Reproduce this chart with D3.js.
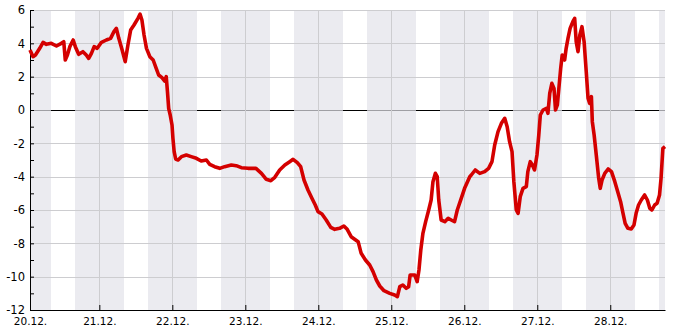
<!DOCTYPE html>
<html>
<head>
<meta charset="utf-8">
<script src="https://cdn.jsdelivr.net/npm/d3@7"></script>
<style>
  body { margin: 0; background: #fff; }
  text { font-family: "DejaVu Sans", sans-serif; fill: #000; }
</style>
</head>
<body>
<div id="chart"></div>
<script>
// hours since 20.12. 00:00
const startHour = 1.2;
const endHour = 210;
const dayLabels = ["20.12.", "21.12.", "22.12.", "23.12.", "24.12.", "25.12.", "26.12.", "27.12.", "28.12."];
const yTickValues = [-12, -10, -8, -6, -4, -2, 0, 2, 4, 6];

const hours = [
  1.2, 2.2, 3.0, 4.4, 5.5, 6.6, 8.2, 9.9, 11.5, 12.3, 12.8, 13.5, 14.3, 15.4, 16.1, 17.2, 18.6, 19.7, 20.5, 21.4,
  22.3, 23.3, 24.7, 26.3, 27.7, 28.8, 29.6, 30.4, 31.5, 32.5, 33.4, 34.3, 35.4, 36.7, 37.4, 38.0, 38.7, 39.5, 40.6, 41.7,
  42.7, 43.5, 44.6, 45.5, 46.0, 46.4, 46.8, 47.3, 47.9, 48.2, 48.6, 49.1, 49.9, 51.0, 52.6, 54.2, 55.9, 57.5, 59.2, 60.3,
  61.9, 63.6, 65.2, 67.4, 69.0, 70.7, 72.9, 75.5, 77.3, 78.9, 80.4, 81.7, 83.3, 85.0, 86.6, 87.7, 89.1, 90.2, 91.3, 92.6,
  93.9, 95.0, 95.9, 97.2, 98.6, 100.1, 101.4, 103.0, 104.4, 105.5, 106.8, 109.1, 110.1, 111.5, 112.9, 114.0, 115.1, 116.2, 117.6, 119.5,
  121.1, 122.0, 122.8, 123.8, 124.9, 125.7, 126.2, 127.7, 128.5, 129.1, 129.7, 130.4, 131.3, 132.3, 133.1, 133.7, 134.5, 135.1, 135.6, 136.4,
  137.6, 138.7, 139.7, 140.8, 141.7, 143.0, 144.1, 145.8, 146.3, 147.6, 149.1, 150.7, 152.0, 153.1, 154.0, 155.1, 156.2, 157.3, 158.1, 158.9,
  159.7, 160.3, 161.1, 161.7, 162.4, 163.3, 164.4, 164.9, 165.7, 166.4, 167.1, 167.9, 168.5, 169.0, 169.9, 171.0, 171.5, 172.1, 172.8, 173.5,
  174.0, 174.6, 175.1, 175.7, 176.2, 177.0, 177.5, 178.1, 178.8, 179.7, 180.3, 180.8, 181.4, 182.0, 182.7, 183.4, 184.1, 184.7, 185.2, 185.8,
  186.1, 186.7, 187.4, 188.2, 188.7, 189.3, 190.2, 191.3, 192.4, 193.5, 194.6, 195.4, 196.2, 196.9, 197.8, 198.9, 199.8, 200.5, 201.3, 202.2,
  203.3, 204.2, 205.0, 205.7, 206.6, 207.4, 208.2, 208.7, 209.3, 210.0
];
const temps = [
  3.6, 3.2, 3.3, 3.7, 4.06, 3.94, 4.0, 3.84, 4.0, 4.1, 3.0, 3.3, 3.8, 4.2, 3.8, 3.34, 3.5, 3.3, 3.1, 3.4,
  3.8, 3.7, 4.06, 4.2, 4.3, 4.7, 4.9, 4.3, 3.6, 2.9, 3.9, 4.8, 5.1, 5.5, 5.75, 5.4, 4.5, 3.7, 3.2, 3.0,
  2.5, 2.1, 1.94, 1.74, 2.0, 1.1, 0.1, -0.3, -0.9, -1.7, -2.5, -2.94, -3.0, -2.8, -2.7, -2.8, -2.9, -3.06, -3.0, -3.26,
  -3.4, -3.5, -3.4, -3.3, -3.34, -3.46, -3.5, -3.5, -3.8, -4.16, -4.24, -4.04, -3.6, -3.3, -3.1, -2.96, -3.16, -3.4, -4.2, -4.8,
  -5.3, -5.7, -6.1, -6.24, -6.6, -7.04, -7.16, -7.1, -6.96, -7.16, -7.6, -7.9, -8.6, -9.0, -9.3, -9.7, -10.2, -10.56, -10.84, -11.0,
  -11.1, -11.2, -10.6, -10.5, -10.7, -10.6, -9.9, -9.9, -10.3, -9.6, -8.4, -7.4, -6.7, -6.0, -5.4, -4.3, -3.8, -4.0, -5.4, -6.6,
  -6.7, -6.5, -6.6, -6.7, -6.0, -5.3, -4.7, -4.0, -3.9, -3.6, -3.8, -3.7, -3.5, -3.1, -2.1, -1.3, -0.8, -0.5, -1.0, -1.9,
  -2.5, -4.3, -6.0, -6.2, -5.2, -4.7, -4.6, -3.7, -3.1, -3.3, -3.6, -2.7, -1.5, -0.3, 0.0, 0.1, -0.2, 1.0, 1.6, 1.3,
  0.0, 0.3, 1.3, 2.5, 3.3, 3.0, 3.7, 4.3, 4.9, 5.3, 5.5, 4.1, 3.5, 4.5, 5.0, 4.1, 2.3, 0.7, 0.4, 0.8,
  -0.7, -1.5, -2.7, -4.1, -4.7, -4.2, -3.8, -3.54, -3.7, -4.3, -5.0, -5.5, -6.2, -6.8, -7.1, -7.14, -6.9, -6.2, -5.7, -5.4,
  -5.1, -5.4, -5.9, -6.0, -5.7, -5.6, -5.1, -4.1, -2.3, -2.2
];

const width = 685, height = 330;
const margin = { top: 10, right: 20, bottom: 20, left: 30 };
const innerW = width - margin.left - margin.right;
const innerH = height - margin.top - margin.bottom;

const svg = d3.select("#chart").append("svg")
  .attr("width", width)
  .attr("height", height);

const g = svg.append("g")
  .attr("transform", `translate(${margin.left},${margin.top})`);

const x = d3.scaleLinear().domain([startHour, endHour]).range([0, innerW]);
const y = d3.scaleLinear().domain([-12, 6]).range([innerH, 0]);

// zero line first, night bands lie over it
g.append("line")
  .attr("x1", 0).attr("x2", innerW)
  .attr("y1", y(0) + 0.5).attr("y2", y(0) + 0.5)
  .attr("stroke", "#000");

// night bands 16:00 - 08:00
const nights = d3.range(-1, 9).map(d => [d * 24 + 16, d * 24 + 32])
  .map(([a, b]) => [Math.max(a, startHour), Math.min(b, endHour)])
  .filter(([a, b]) => b > a);

g.selectAll("rect.night")
  .data(nights)
  .enter()
  .append("rect")
  .attr("class", "night")
  .attr("x", d => Math.round(x(d[0])))
  .attr("width", d => Math.round(x(d[1])) - Math.round(x(d[0])))
  .attr("y", 0)
  .attr("height", innerH)
  .attr("fill", "#e3e3ea")
  .attr("fill-opacity", 0.7);

// grid
const dayTicks = d3.range(1, 9).map(d => d * 24);
g.selectAll("line.vgrid")
  .data(dayTicks)
  .enter()
  .append("line")
  .attr("x1", d => Math.round(x(d)) + 0.5).attr("x2", d => Math.round(x(d)) + 0.5)
  .attr("y1", 0).attr("y2", innerH)
  .attr("stroke", "#cdcdd0");

g.selectAll("line.hgrid")
  .data(yTickValues.filter(v => v !== 0 && v !== -12))
  .enter()
  .append("line")
  .attr("x1", 0).attr("x2", innerW)
  .attr("y1", d => Math.round(y(d)) + 0.5).attr("y2", d => Math.round(y(d)) + 0.5)
  .attr("stroke", "#cdcdd0");

// axes
const xAxis = d3.axisBottom(x)
  .tickValues([startHour].concat(dayTicks))
  .tickFormat((d, i) => dayLabels[i])
  .tickSizeInner(-5)
  .tickSizeOuter(0)
  .tickPadding(8);

const gx = g.append("g")
  .attr("transform", `translate(0,${innerH})`)
  .call(xAxis);
gx.selectAll("text").style("font-size", "10.5px").attr("dy", "0.71em");
gx.select(".domain").attr("stroke", "#000");

const yAxis = d3.axisLeft(y)
  .tickValues(d3.range(-12, 7, 1))
  .tickFormat(d => d % 2 === 0 ? d : "")
  .tickSizeInner(-4)
  .tickSizeOuter(0)
  .tickPadding(5);

const gy = g.append("g").call(yAxis);
gy.selectAll("text").style("font-size", "11.5px");
gy.select(".domain").attr("stroke", "#000");

// temperature line
const line = d3.line()
  .x((d, i) => x(hours[i]))
  .y(d => y(d));

g.append("path")
  .datum(temps)
  .attr("fill", "none")
  .attr("stroke", "#d40000")
  .attr("stroke-width", 3.6)
  .attr("stroke-linejoin", "round")
  .attr("d", line);
</script>
</body>
</html>
